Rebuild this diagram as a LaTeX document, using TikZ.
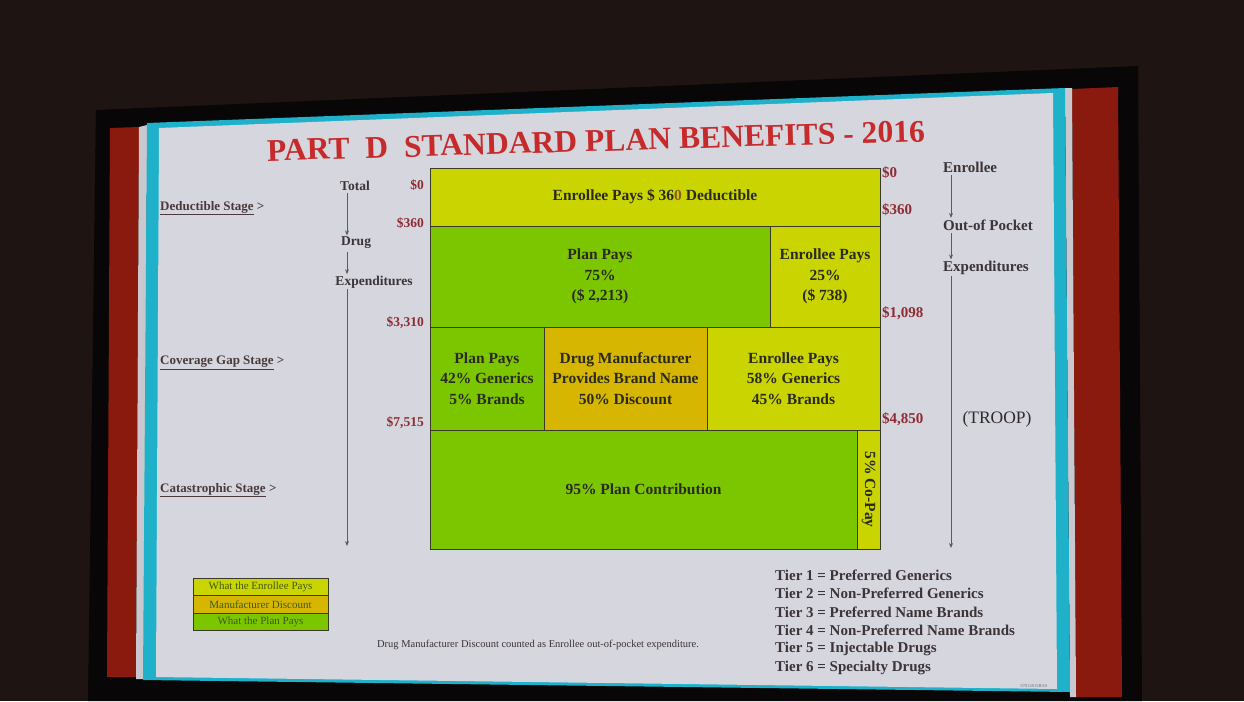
\documentclass[tikz,border=0pt]{standalone}
\usepackage{fontspec}
\usepackage{graphicx}
\setmainfont{Liberation Serif}
\usetikzlibrary{arrows.meta}
\definecolor{bgdark}{HTML}{1E1411}
\definecolor{bezel}{HTML}{080606}
\definecolor{slidebg}{HTML}{D6D6DE}
\definecolor{cyanb}{HTML}{1FB1CA}
\definecolor{redp}{HTML}{8A1A0E}
\definecolor{strip}{HTML}{C8C8CE}
\definecolor{yel}{HTML}{CAD400}
\definecolor{grn}{HTML}{7CC600}
\definecolor{gold}{HTML}{D6B600}
\definecolor{titlered}{HTML}{C62A2A}
\definecolor{dollar}{HTML}{8E2C34}
\definecolor{txt}{HTML}{3C3436}
\definecolor{stagec}{HTML}{4A3A3C}
\definecolor{boxtxt}{HTML}{2A2A1E}
\definecolor{legtxt}{HTML}{3E5A14}
\definecolor{cellline}{HTML}{3A3A2A}
\definecolor{zeroc}{HTML}{8A5A1E}
\definecolor{axis}{HTML}{5E5A5C}
\begin{document}
\begin{tikzpicture}[x=1pt,y=-1pt,
  cell/.style={draw=cellline, line width=0.8pt, inner sep=0pt, outer sep=0pt, align=center,
    text=boxtxt, font=\fontsize{15.5}{20.5}\selectfont\bfseries},
  lbl/.style={text=txt, inner sep=2.5pt, font=\fontsize{13.5}{16}\selectfont\bfseries},
  rlbl/.style={text=txt, inner sep=2.5pt, anchor=west, font=\fontsize{15}{18}\selectfont\bfseries},
  ldol/.style={text=dollar, inner sep=0pt, anchor=east, font=\fontsize{13.5}{16}\selectfont\bfseries},
  rdol/.style={text=dollar, inner sep=0pt, anchor=west, font=\fontsize{15}{18}\selectfont\bfseries},
  stage/.style={text=stagec, inner sep=0pt, anchor=west, font=\fontsize{13}{16}\selectfont\bfseries},
  leg/.style={draw=cellline, line width=0.8pt, inner sep=0pt, outer sep=0pt, minimum width=135pt,
    minimum height=17.6pt, text=legtxt, font=\fontsize{11}{12}\selectfont},
  tier/.style={text=txt, inner sep=0pt, anchor=west, font=\fontsize{15}{18}\selectfont\bfseries},
  arr/.style={draw=axis, line width=0.9pt, -{Stealth[length=5pt,width=4pt]}}
]
\useasboundingbox (0,0) rectangle (1244,701);
% ---- photo frame ----
\fill[bgdark] (0,0) rectangle (1244,701);
\fill[bezel] (96,110) -- (1138,66) -- (1142,701) -- (88,701) -- cycle;
\fill[redp] (110,128) -- (139,127) -- (136,677) -- (107,677) -- cycle;
\fill[redp] (1072,89) -- (1118,87) -- (1122,697) -- (1076,697) -- cycle;
\fill[strip] (139,127) -- (147,125) -- (145,679) -- (136,679) -- cycle;
\fill[strip] (1065,88) -- (1072,88) -- (1076,697) -- (1070,697) -- cycle;
\fill[cyanb] (147,123) -- (1065,88) -- (1070,692) -- (143,680) -- cycle;
\fill[slidebg] (159,128) -- (1053,93) -- (1057,689) -- (156,677) -- cycle;
% ---- title ----
\node[rotate=1.7, text=titlered, inner sep=0pt] (title) at (596,141)
  {\resizebox{658pt}{21pt}{\bfseries PART\ \ D\ \ STANDARD PLAN BENEFITS - 2016}};
% ---- chart ----
\node[cell, fill=yel, minimum width=450pt, minimum height=58pt] (ded) at (655,197)
  {Enrollee Pays \$ 36{\color{zeroc}0} Deductible};
\node[cell, fill=grn, minimum width=340pt, minimum height=101pt] (planA) at (600,276.5)
  {Plan Pays\\75\%\\(\$ 2,213)};
\node[cell, fill=yel, minimum width=110pt, minimum height=101pt] (enrA) at (825,276.5)
  {Enrollee Pays\\25\%\\(\$ 738)};
\node[cell, fill=grn, minimum width=114pt, minimum height=103pt] (gapPlan) at (487,378.5)
  {Plan Pays\\42\% Generics\\5\% Brands};
\node[cell, fill=gold, minimum width=163pt, minimum height=103pt] (gapMan) at (625.5,378.5)
  {Drug Manufacturer\\Provides Brand Name\\50\% Discount};
\node[cell, fill=yel, minimum width=173pt, minimum height=103pt] (gapEnr) at (793.5,378.5)
  {Enrollee Pays\\58\% Generics\\45\% Brands};
\node[cell, fill=grn, minimum width=427pt, minimum height=119pt] (cat) at (643.5,489.5)
  {95\% Plan Contribution};
\node[cell, fill=yel, minimum width=23pt, minimum height=119pt] (copay) at (868.5,489.5) {};
\node[rotate=-90, text=boxtxt, font=\fontsize{15.5}{18}\selectfont\bfseries, inner sep=0pt]
  (copaytxt) at (copay.center) {5\% Co-Pay};
% ---- left stage labels ----
\node[stage] (s1) at (160,208) {\underline{Deductible Stage} >};
\node[stage] (s2) at (160,363) {\underline{Coverage Gap Stage} >};
\node[stage] (s3) at (160,490) {\underline{Catastrophic Stage} >};
% ---- total drug expenditures axis ----
\coordinate (axL) at (347,0);
\coordinate (lend) at (347,546);
\node[lbl] (tot) at (355,186) {Total};
\node[lbl] (drug) at (356,243) {Drug};
\node[lbl] (expL) at (374,282) {Expenditures};
\draw[arr] (tot.south -| axL) -- ([yshift=-1pt]drug.north -| axL);
\draw[arr] (drug.south -| axL) -- ([yshift=-1pt]expL.north -| axL);
\draw[arr] ([yshift=2pt]expL.south -| axL) -- (lend);
\node[ldol] (l0) at (424,185) {\$0};
\node[ldol] (l360) at (424,223) {\$360};
\node[ldol] (l3310) at (424,323) {\$3,310};
\node[ldol] (l7515) at (424,423) {\$7,515};
% ---- right axis ----
\node[rdol] (r0) at (882,173) {\$0};
\node[rdol] (r360) at (882,210) {\$360};
\node[rdol] (r1098) at (882,313) {\$1,098};
\node[rdol] (r4850) at (882,419) {\$4,850};
\coordinate (axR) at (951,0);
\coordinate (rend) at (951,548);
\node[rlbl] (enr) at (940.5,167) {Enrollee};
\node[rlbl] (oop) at (940.5,225) {Out-of Pocket};
\node[rlbl] (expR) at (940.5,268) {Expenditures};
\draw[arr] (enr.south -| axR) -- ([yshift=-1pt]oop.north -| axR);
\draw[arr] (oop.south -| axR) -- ([yshift=-1pt]expR.north -| axR);
\draw[arr] ([yshift=2pt]expR.south -| axR) -- (rend);
\node[text=txt!80!black, inner sep=0pt, font=\fontsize{17.5}{20}\selectfont] (troop) at (997,419) {(TROOP)};
% ---- legend ----
\node[leg, fill=yel] (lg1) at (260.5,586.8) {What the Enrollee Pays};
\node[leg, fill=gold] (lg2) at (260.5,604.4) {Manufacturer Discount};
\node[leg, fill=grn] (lg3) at (260.5,622) {What the Plan Pays};
% ---- footnote ----
\node[text=txt, inner sep=0pt, font=\fontsize{10.5}{12}\selectfont] (foot) at (538,645)
  {Drug Manufacturer Discount counted as Enrollee out-of-pocket expenditure.};
% ---- tiers ----
\node[tier] (t1) at (775,575) {Tier 1 = Preferred Generics};
\node[tier] (t2) at (775,593.5) {Tier 2 = Non-Preferred Generics};
\node[tier] (t3) at (775,612) {Tier 3 = Preferred Name Brands};
\node[tier] (t4) at (775,630.5) {Tier 4 = Non-Preferred Name Brands};
\node[tier] (t5) at (775,649) {Tier 5 = Injectable Drugs};
\node[tier] (t6) at (775,667.5) {Tier 6 = Specialty Drugs};
\node[text=txt!70, inner sep=0pt, font=\fontsize{4.5}{5}\selectfont] (stamp) at (1034,686) {07012015BAS};
\end{tikzpicture}
\end{document}
